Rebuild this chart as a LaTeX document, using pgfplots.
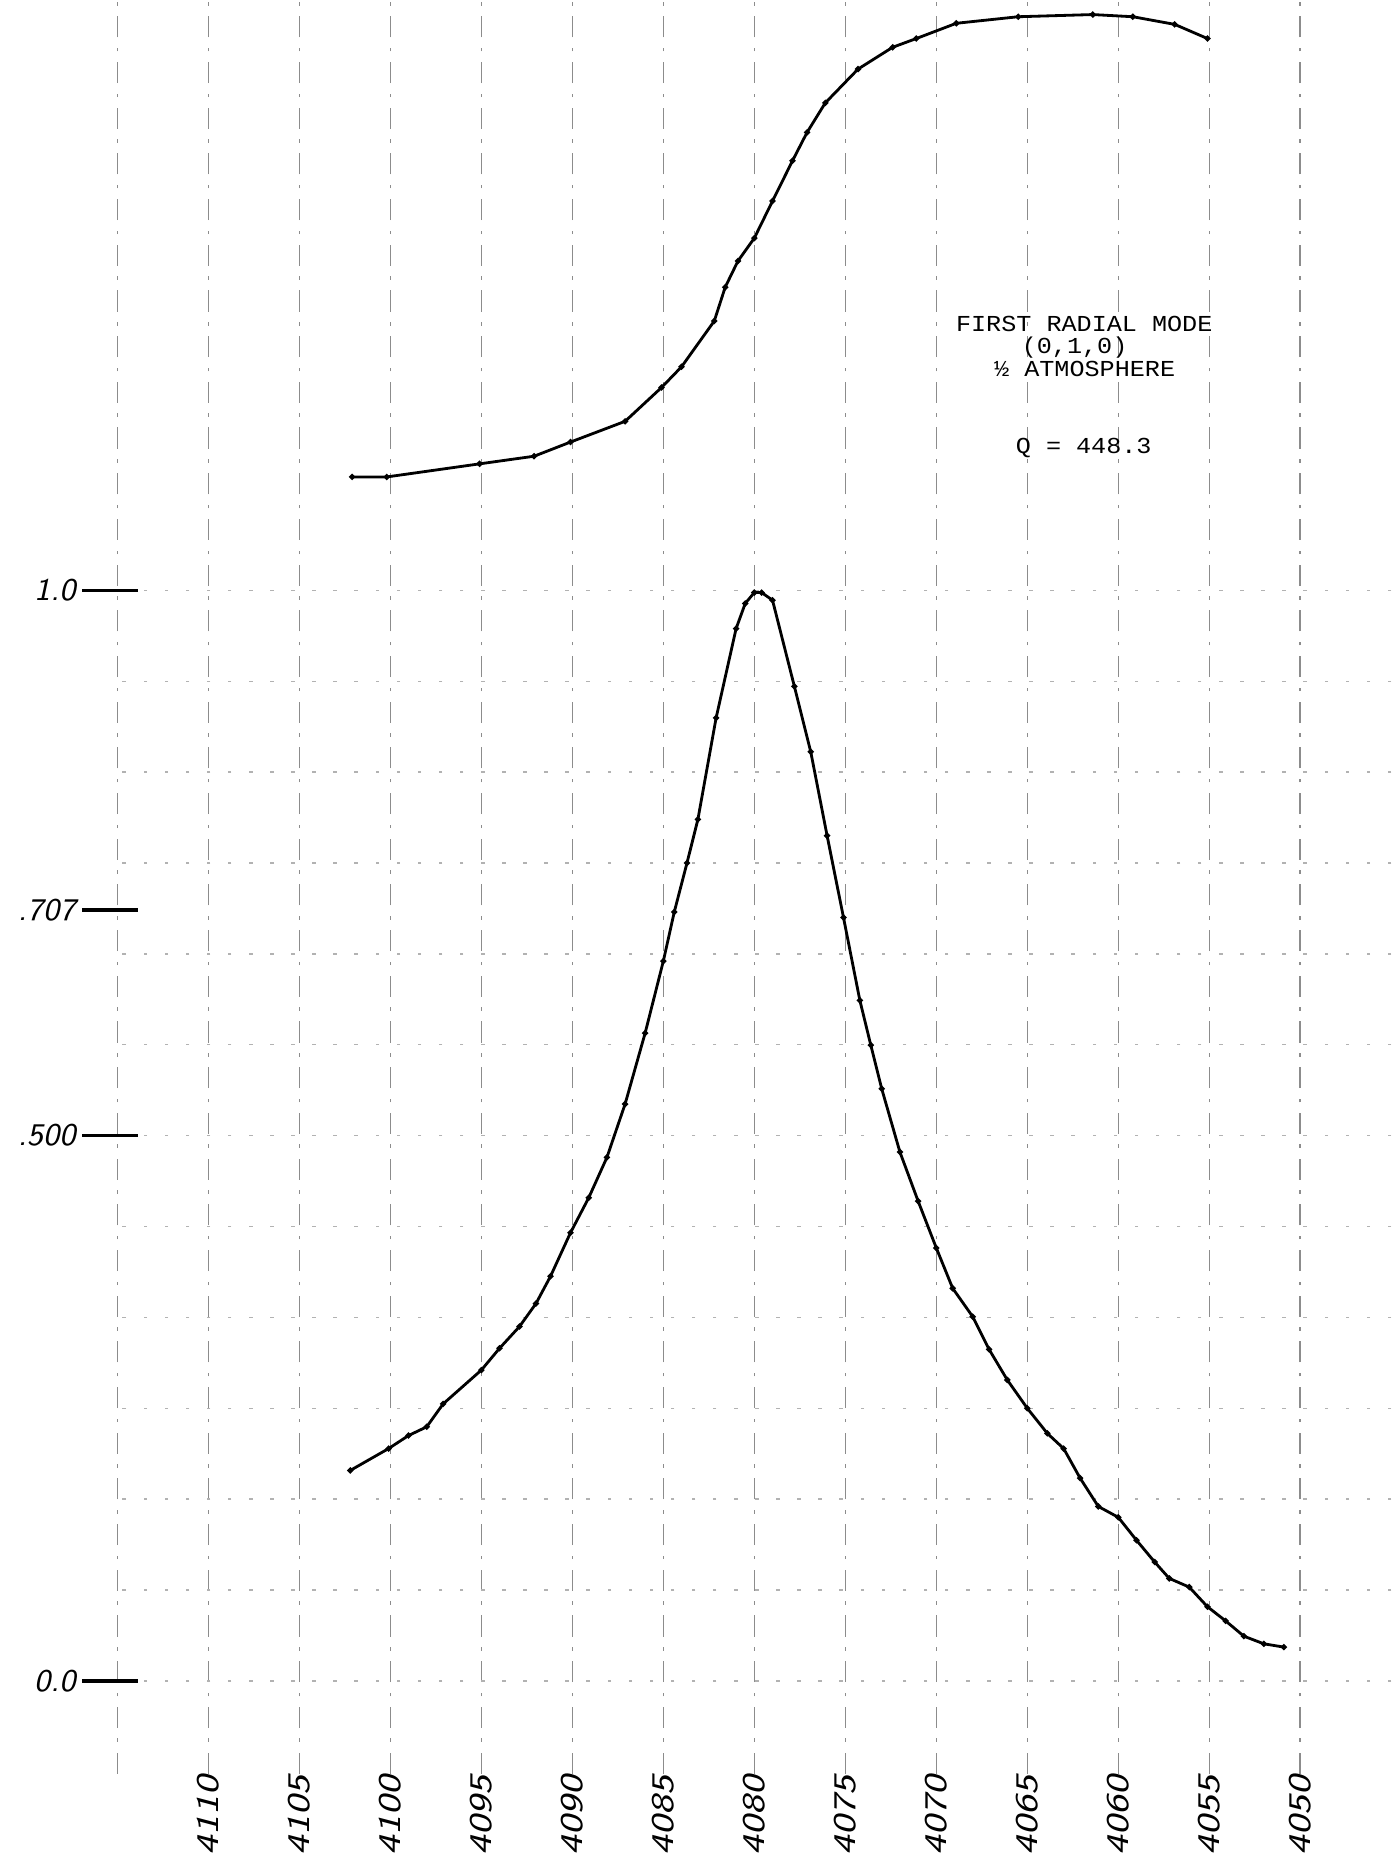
\documentclass[border=0pt]{standalone}
\usepackage{fontspec}
\usepackage{pgfplots}
\pgfplotsset{compat=1.18}
\newfontfamily\typew{Liberation Mono}
\pgfplotstableread{
x y
4102.2 0.193
4100.1 0.213
4099.0 0.225
4098.0 0.233
4097.1 0.254
4095.0 0.285
4094.0 0.305
4092.9 0.325
4092.0 0.346
4091.2 0.371
4090.1 0.411
4089.1 0.443
4088.1 0.480
4087.1 0.529
4086.0 0.594
4085.0 0.660
4084.4 0.705
4083.7 0.750
4083.1 0.790
4082.1 0.883
4081.0 0.965
4080.5 0.988
4080.0 0.998
4079.6 0.998
4079.0 0.991
4077.8 0.912
4076.9 0.852
4076.0 0.775
4075.1 0.700
4074.2 0.624
4073.6 0.583
4073.0 0.543
4072.0 0.485
4071.0 0.440
4070.0 0.397
4069.1 0.360
4068.0 0.334
4067.1 0.304
4066.1 0.276
4065.0 0.250
4063.9 0.227
4063.0 0.213
4062.1 0.186
4061.1 0.160
4060.0 0.150
4059.0 0.129
4058.0 0.109
4057.2 0.094
4056.1 0.086
4055.1 0.068
4054.1 0.055
4053.1 0.041
4052.0 0.034
4050.9 0.031
}\amplitude
\pgfplotstableread{
x y
4102.1 1.104
4100.2 1.104
4095.1 1.116
4092.1 1.123
4090.1 1.136
4087.1 1.155
4085.1 1.186
4084.0 1.205
4082.2 1.247
4081.6 1.278
4080.9 1.302
4080.0 1.323
4079.0 1.357
4077.9 1.394
4077.1 1.420
4076.1 1.447
4074.3 1.478
4072.4 1.498
4071.1 1.506
4068.9 1.520
4065.5 1.526
4061.4 1.528
4059.2 1.526
4056.9 1.519
4055.1 1.506
}\phase
\begin{document}
\begin{tikzpicture}
\useasboundingbox (-1.101cm,-0.884cm) rectangle (12.809cm,17.736cm);
\begin{axis}[
  scale only axis,
  width=12.812cm, height=17.721cm,
  xmin=4045, xmax=4115.4, ymin=-0.085, ymax=1.54,
  x dir=reverse,
  axis line style={draw=none},
  clip=false,
  xtick={4050,4055,...,4115},
  xticklabels={4050,4055,4060,4065,4070,4075,4080,4085,4090,4095,4100,4105,4110,},
  xmajorgrids,
  major x grid style={black!45, line width=0.45pt, dash pattern=on 6pt off 3pt on 1pt off 3pt},
  xtick style={draw=none},
  xticklabel style={font=\sffamily\itshape\fontsize{9}{9}\selectfont, yshift=0.31cm, rotate=90, anchor=east, xscale=1.22, inner sep=1pt},
  ytick pos=left,
  ytick={0,0.5,0.707,1},
  yticklabels={0.0,.500,.707,1.0},
  ytick style={black, line width=1pt},
  tick align=center,
  major tick length=0.56cm,
  yticklabel style={font=\sffamily\itshape\fontsize{9}{9}\selectfont, xshift=0.06cm},
  minor ytick={0,0.0833,0.1667,0.25,0.3333,0.4167,0.5,0.5833,0.6667,0.75,0.8333,0.9167,1.0},
  yminorgrids,
  minor y grid style={black!30, line width=0.4pt, dash pattern=on 1pt off 5pt},
  minor tick length=0pt,
]
\addplot[black, line width=0.8pt, mark=*, mark size=0.4pt] table[x=x,y=y] {\amplitude};
\addplot[black, line width=0.8pt, mark=*, mark size=0.4pt] table[x=x,y=y] {\phase};
\node[font=\typew\fontsize{6.5}{6.5}\selectfont, xscale=1.1, inner sep=0pt] at (axis cs:4061.87,1.244) {FIRST RADIAL MODE};
\node[font=\typew\fontsize{6.5}{6.5}\selectfont, xscale=1.1, inner sep=0pt] at (axis cs:4062.4,1.2228) {(0,1,0)};
\node[font=\typew\fontsize{6.5}{6.5}\selectfont, xscale=1.1, inner sep=0pt] at (axis cs:4061.85,1.2026) {½ ATMOSPHERE};
\node[font=\typew\fontsize{6.5}{6.5}\selectfont, xscale=1.1, inner sep=0pt] at (axis cs:4061.9,1.1307) {Q = 448.3};
\end{axis}
\end{tikzpicture}
\end{document}
